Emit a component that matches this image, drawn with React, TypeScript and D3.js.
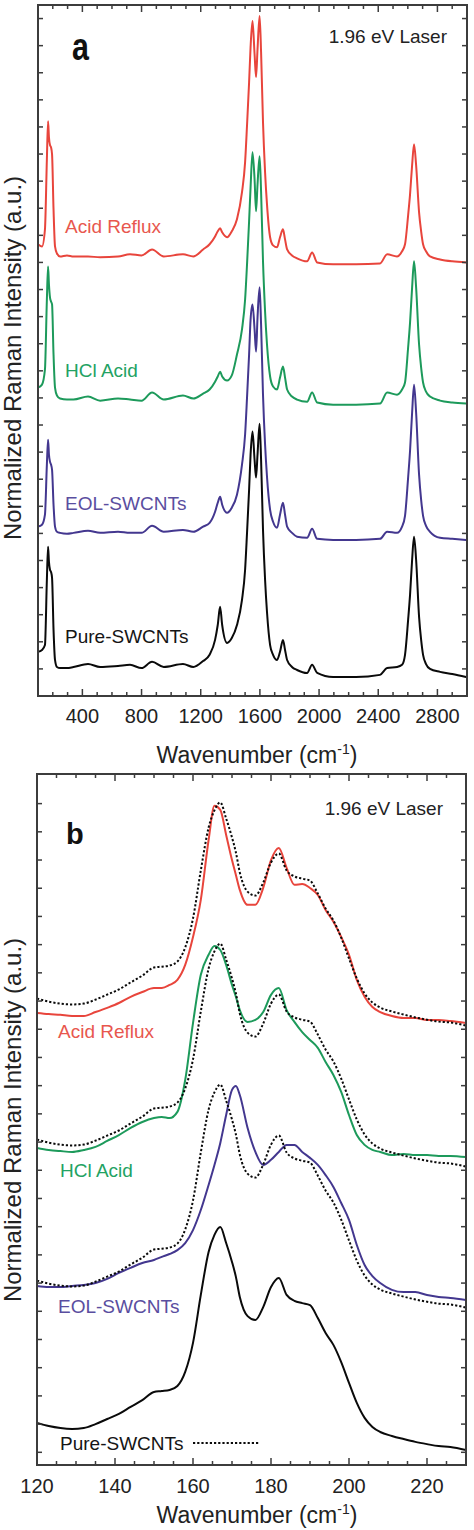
import React from 'react';
import * as d3 from 'd3';

// ---------- Panel a: full Raman spectra (1.96 eV laser) ----------
const wavenumbersA = [100,127,147,160,168,174,181,188,195,205,215,228,249,296,340,438,520,641,722,800,871,950,1080,1150,1216,1260,1297,1315,1331,1345,1378,1410,1445,1479,1500,1513,1527,1537,1550,1564,1574,1584,1598,1608,1621,1635,1648,1669,1689,1716,1736,1756,1770,1784,1817,1851,1919,1953,1987,2095,2250,2412,2460,2527,2561,2581,2602,2615,2629,2642,2656,2676,2690,2703,2723,2750,2818,2900,2994];

const pureA = [1.63,1.70,1.88,4.29,5.51,4.95,4.66,4.58,4.36,2.44,1.33,1.07,1.03,1.03,1.07,1.18,1.07,1.11,1.15,1.03,1.26,1.07,1.18,1.07,1.29,1.52,2.07,2.62,3.29,2.62,1.96,2.14,2.62,3.55,4.66,6.02,7.61,8.91,9.76,8.72,8.06,8.91,10.05,8.72,6.13,4.29,3.10,1.88,1.52,1.33,1.63,2.07,1.70,1.33,1.07,0.96,0.85,1.15,0.85,0.70,0.70,0.78,1.03,1.07,1.15,1.52,2.81,3.73,5.03,5.88,5.03,2.92,2.07,1.52,1.18,1.00,0.89,0.81,0.70];

const eolA = [6.25,6.32,6.69,8.54,9.46,8.91,8.65,8.54,8.35,7.06,6.25,6.06,6.02,5.99,6.02,6.10,6.02,6.06,6.02,6.02,6.28,6.06,6.13,6.06,6.25,6.39,6.80,7.13,7.35,7.06,6.76,6.95,7.43,8.54,9.65,11.01,12.60,13.89,14.45,13.53,12.71,13.97,15.08,13.71,11.12,9.28,8.09,6.87,6.43,6.21,6.69,7.13,6.69,6.25,6.02,5.88,5.84,6.17,5.80,5.76,5.76,5.80,6.06,6.02,6.25,6.65,8.06,9.05,10.46,11.49,10.46,8.17,7.24,6.65,6.28,6.06,5.84,5.80,5.76];

const hclA = [11.38,11.49,12.05,14.63,15.85,15.19,14.71,14.56,14.45,12.60,11.38,11.09,10.98,10.94,10.94,11.05,10.90,10.98,10.94,10.90,11.20,10.94,11.09,10.98,11.16,11.31,11.60,11.79,11.97,11.79,11.64,11.83,12.60,13.53,14.63,15.93,17.52,18.77,20.07,19.07,17.89,18.88,19.92,18.62,16.04,14.19,12.97,11.79,11.42,11.31,11.75,12.16,11.75,11.31,11.05,10.94,10.86,11.20,10.83,10.75,10.75,10.79,11.20,11.12,11.31,11.57,12.86,13.78,15.08,16.04,15.08,12.97,12.12,11.57,11.23,11.05,10.90,10.83,10.79];

const refluxA = [16.67,16.59,17.22,19.81,21.21,20.62,20.33,20.25,19.99,17.96,16.59,16.33,16.22,16.26,16.22,16.22,16.19,16.22,16.30,16.26,16.48,16.22,16.30,16.22,16.48,16.67,16.96,17.15,17.26,17.11,16.93,17.15,17.59,18.59,19.70,21.06,22.65,23.95,24.91,23.69,22.84,23.87,25.09,23.76,21.17,19.33,18.14,16.93,16.63,16.56,16.93,17.22,16.85,16.48,16.26,16.15,16.04,16.37,16.00,15.93,15.93,15.96,16.30,16.22,16.41,16.67,17.74,18.51,19.59,20.36,19.59,17.85,17.15,16.67,16.41,16.22,16.11,16.04,16.00];

const xTickLabelsA = [400, 800, 1200, 1600, 2000, 2400, 2800];

// ---------- Panel b: RBM region ----------
const wavenumbersB = [120,123,126,129,132,135,138,141,144,147,150,152,154,156,158,160,162,164,165.5,167,168.5,170,171,172,174,176,178,180,182,184,186,188,190,192,194,196,198,200,202,204,206,208,211,214,217,220,223,226,230];

const pureB = [1.49,1.38,1.31,1.28,1.31,1.45,1.63,1.81,2.06,2.30,2.59,2.62,2.66,2.80,3.30,4.33,6.03,7.55,8.16,8.44,7.87,7.20,6.67,5.96,5.28,5.14,5.60,6.31,6.63,6.03,5.82,5.74,5.67,5.21,4.68,4.26,3.65,2.91,2.20,1.67,1.35,1.17,1.03,0.92,0.82,0.74,0.67,0.64,0.53];

const refluxB = [16.03,15.99,15.96,15.92,15.92,16.06,16.21,16.38,16.60,16.77,16.91,16.91,17.02,17.20,17.73,18.72,20.04,22.16,23.37,23.23,22.34,21.45,20.92,20.39,19.86,19.86,20.46,21.45,21.88,21.17,20.57,20.60,20.46,20.21,19.68,19.26,18.72,18.09,17.20,16.60,16.24,16.06,15.92,15.85,15.85,15.78,15.78,15.74,15.67];

const hclB = [11.24,11.17,11.13,11.10,11.17,11.28,11.49,11.70,11.95,12.16,12.30,12.34,12.30,12.52,13.65,15.67,17.38,18.09,18.40,18.26,17.73,17.02,16.60,16.13,15.71,15.78,16.06,16.67,16.91,16.13,15.71,15.35,15.07,14.79,14.29,13.83,13.23,12.41,11.70,11.35,11.17,11.10,10.99,11.03,10.99,10.99,10.96,10.96,10.92];

const eolB = [6.35,6.31,6.31,6.35,6.38,6.45,6.60,6.81,6.99,7.16,7.27,7.38,7.48,7.62,7.87,8.33,9.04,9.93,10.64,11.42,12.41,13.30,13.44,13.12,11.95,11.10,10.64,10.82,11.10,11.35,11.35,11.10,10.89,10.64,10.28,9.86,9.29,8.69,7.80,7.09,6.70,6.45,6.21,6.13,6.13,6.03,5.96,5.92,5.85];

// vertical offsets of the dotted Pure-SWCNT reference drawn over each treated spectrum
const pureOverlayOffsetsB = [15.05, 10.05, 5.05];

const xTickLabelsB = [120, 140, 160, 180, 200, 220];

const seriesNames = ['Acid Reflux', 'HCl Acid', 'EOL-SWCNTs', 'Pure-SWCNTs'];

const COLORS = {
  red: '#e8453c',
  green: '#1d9a5b',
  purple: '#43378f',
  black: '#0a0a0a',
};
const LABEL_COLORS = ['#e8574e', '#22a263', '#5a4ea0', '#151515'];
const FONT = "'Liberation Sans', Arial, Helvetica, sans-serif";
const FRAME = '#3c3c3c';

export default function App() {
  const xA = d3.scaleLinear().domain([100, 3000]).range([38, 467]);
  const yA = d3.scaleLinear().domain([0, 25.5]).range([696, 5]);
  const xB = d3.scaleLinear().domain([120, 230]).range([37, 466]);
  const yB = d3.scaleLinear().domain([0, 24.5]).range([1465, 774]);

  const lineA = (vals: number[]) =>
    d3.line<number>()
      .x((_, i) => xA(wavenumbersA[i]))
      .y((d) => yA(d))
      .curve(d3.curveMonotoneX)(vals) || '';
  const lineB = (vals: number[], off = 0) =>
    d3.line<number>()
      .x((_, i) => xB(wavenumbersB[i]))
      .y((d) => yB(d + off))
      .curve(d3.curveMonotoneX)(vals) || '';

  const [ax0, ax1] = xA.range();
  const [ay1, ay0] = yA.range();
  const [bx0, bx1] = xB.range();
  const [by1, by0] = yB.range();

  const ticksAX = d3.range(200, 3000, 100);
  const ticksAY = d3.range(1, 26);
  const ticksBX = d3.range(125, 230, 5);
  const ticksBY = d3.range(0, 24).map((i) => i + 0.45);

  const tick = (x1: number, y1: number, x2: number, y2: number, k: string) => (
    <line key={k} x1={x1} y1={y1} x2={x2} y2={y2} stroke={FRAME} strokeWidth={1.5} />
  );

  const yTitle = (cy: number) => (
    <text
      transform={`translate(21,${cy}) rotate(-90)`}
      textAnchor="middle"
      fontSize={24}
      fill="#222"
    >
      Normalized Raman Intensity (a.u.)
    </text>
  );
  const xTitle = (y: number) => (
    <text x={257} y={y} textAnchor="middle" fontSize={23} fill="#222">
      Wavenumber (cm
      <tspan dy={-9} fontSize={14}>-1</tspan>
      <tspan dy={9}>)</tspan>
    </text>
  );

  return (
    <svg
      width={474}
      height={1530}
      viewBox="0 0 474 1530"
      style={{ position: 'absolute', left: 0, top: 0, background: '#fff' }}
      fontFamily={FONT}
    >
      <defs>
        <clipPath id="clipA">
          <rect x={ax0} y={ay0} width={ax1 - ax0} height={ay1 - ay0} />
        </clipPath>
        <clipPath id="clipB">
          <rect x={bx0} y={by0} width={bx1 - bx0} height={by1 - by0} />
        </clipPath>
      </defs>
      <rect x={0} y={0} width={474} height={1530} fill="#fff" />

      {/* ================= Panel a ================= */}
      <g clipPath="url(#clipA)" fill="none" strokeWidth={2} strokeLinejoin="round">
        <path d={lineA(pureA)} stroke={COLORS.black} />
        <path d={lineA(eolA)} stroke={COLORS.purple} />
        <path d={lineA(hclA)} stroke={COLORS.green} />
        <path d={lineA(refluxA)} stroke={COLORS.red} />
      </g>
      {ticksAX.map((v) => {
        const len = v % 400 === 0 ? 7 : 4;
        return (
          <g key={'ax' + v}>
            {tick(xA(v), ay1, xA(v), ay1 - len, 'b')}
            {tick(xA(v), ay0, xA(v), ay0 + len, 't')}
          </g>
        );
      })}
      {ticksAY.map((v) => (
        <g key={'ay' + v}>
          {tick(ax0, yA(v), ax0 + 5, yA(v), 'l')}
          {tick(ax1, yA(v), ax1 - 5, yA(v), 'r')}
        </g>
      ))}
      <rect x={ax0} y={ay0} width={ax1 - ax0} height={ay1 - ay0} fill="none" stroke={FRAME} strokeWidth={2} />
      {xTickLabelsA.map((v) => (
        <text key={'la' + v} x={xA(v)} y={723} textAnchor="middle" fontSize={20} fill="#222">
          {v}
        </text>
      ))}
      {xTitle(763)}
      {yTitle(358)}
      <text transform="translate(72,60) scale(0.8,1)" fontSize={38} fontWeight="bold" fill="#111">a</text>
      <text x={447} y={43} textAnchor="end" fontSize={19} fill="#222">1.96 eV Laser</text>
      <text x={65} y={233} fontSize={19} fill={LABEL_COLORS[0]}>{seriesNames[0]}</text>
      <text x={65} y={377} fontSize={19} fill={LABEL_COLORS[1]}>{seriesNames[1]}</text>
      <text x={65} y={510} fontSize={19} fill={LABEL_COLORS[2]}>{seriesNames[2]}</text>
      <text x={65} y={643} fontSize={19} fill={LABEL_COLORS[3]}>{seriesNames[3]}</text>

      {/* ================= Panel b ================= */}
      <g clipPath="url(#clipB)" fill="none" strokeWidth={2} strokeLinejoin="round">
        <path d={lineB(pureB)} stroke={COLORS.black} />
        <path d={lineB(eolB)} stroke={COLORS.purple} />
        <path d={lineB(hclB)} stroke={COLORS.green} />
        <path d={lineB(refluxB)} stroke={COLORS.red} />
        {pureOverlayOffsetsB.map((off) => (
          <path key={'ov' + off} d={lineB(pureB, off)} stroke={COLORS.black} strokeDasharray="2.2,2" />
        ))}
      </g>
      {ticksBX.map((v) => {
        const len = v % 20 === 0 ? 7 : 4;
        return (
          <g key={'bx' + v}>
            {tick(xB(v), by1, xB(v), by1 - len, 'b')}
            {tick(xB(v), by0, xB(v), by0 + len, 't')}
          </g>
        );
      })}
      {ticksBY.map((v) => (
        <g key={'by' + v}>
          {tick(bx0, yB(v), bx0 + 5, yB(v), 'l')}
          {tick(bx1, yB(v), bx1 - 5, yB(v), 'r')}
        </g>
      ))}
      <rect x={bx0} y={by0} width={bx1 - bx0} height={by1 - by0} fill="none" stroke={FRAME} strokeWidth={2} />
      {xTickLabelsB.map((v) => (
        <text key={'lb' + v} x={xB(v)} y={1493} textAnchor="middle" fontSize={20} fill="#222">
          {v}
        </text>
      ))}
      {xTitle(1523)}
      {yTitle(1120)}
      <text x={66} y={844} fontSize={29} fontWeight="bold" fill="#111">b</text>
      <text x={443} y={815} textAnchor="end" fontSize={19} fill="#222">1.96 eV Laser</text>
      <text x={58} y={1038} fontSize={19} fill={LABEL_COLORS[0]}>{seriesNames[0]}</text>
      <text x={60} y={1177} fontSize={19} fill={LABEL_COLORS[1]}>{seriesNames[1]}</text>
      <text x={58} y={1313} fontSize={19} fill={LABEL_COLORS[2]}>{seriesNames[2]}</text>
      <text x={60} y={1450} fontSize={19} fill={LABEL_COLORS[3]}>{seriesNames[3]}</text>
      <line x1={193} y1={1443} x2={260} y2={1443} stroke={COLORS.black} strokeWidth={2} strokeDasharray="2.2,2" />
    </svg>
  );
}
